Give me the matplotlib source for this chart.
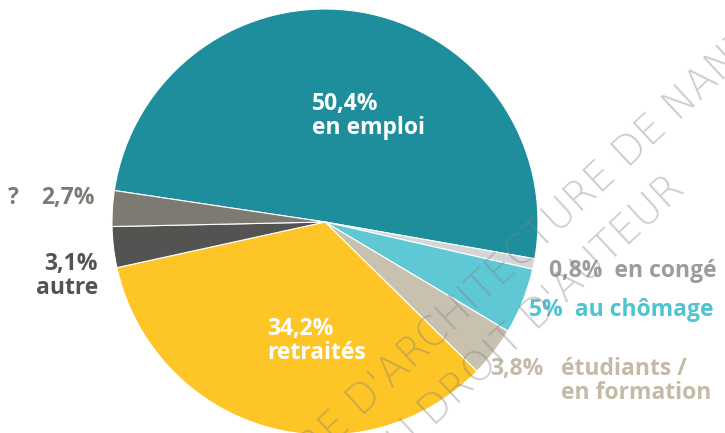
import matplotlib
matplotlib.use("Agg")
import matplotlib.pyplot as plt

plt.rcParams['font.family'] = ['Open Sans', 'DejaVu Sans']

# parts of the population, clockwise from the left edge
labels = ["en emploi", "en congé", "au chômage", "étudiants / en formation",
          "retraités", "autre", "?"]
values = [50.4, 0.8, 5.0, 3.8, 34.2, 3.1, 2.7]
pct_txt = ["50,4%", "0,8%", "5%", "3,8%", "34,2%", "3,1%", "2,7%"]
colors = ["#1e8e9c", "#d3d5d7", "#5fc8d5", "#c8c1b0", "#fdc526", "#545351", "#7d7a74"]

W, H = 725, 433
fig = plt.figure(figsize=(W / 100, H / 100), dpi=100)
ax = fig.add_axes([0, 0, 1, 1])

cx, cy, r = 325, H - 222, 213
ax.pie(values, colors=colors, startangle=171.5, counterclock=False,
       center=(cx, cy), radius=r, frame=True,
       wedgeprops=dict(edgecolor="white", linewidth=0.8))
ax.set_xlim(0, W)
ax.set_ylim(0, H)
ax.axis("off")

fs = 16.5
bold = dict(fontsize=fs, fontweight="bold", linespacing=1.05)

# labels inside the pie
ax.text(312, H - 116, f"{pct_txt[0]}\n{labels[0]}", color="white", ha="left", va="center", **bold)
ax.text(267, H - 341, f"{pct_txt[4]}\n{labels[4]}", color="white", ha="left", va="center", **bold)

# labels outside the pie
ax.text(8, H - 198, labels[6], color=colors[6], ha="left", va="center", **bold)
ax.text(95, H - 198, pct_txt[6], color=colors[6], ha="right", va="center", **bold)
ax.text(98, H - 276, f"{pct_txt[5]}\n{labels[5]}", color=colors[5], ha="right", va="center", **bold)
ax.text(549, H - 271, f"{pct_txt[1]}  {labels[1]}", color="#9c9c9e", ha="left", va="center", **bold)
ax.text(529, H - 310, f"{pct_txt[2]}  {labels[2]}", color="#4fc3d2", ha="left", va="center", **bold)
ax.text(490, H - 369, pct_txt[3], color="#c3bba8", ha="left", va="center", **bold)
ax.text(561, H - 381, "étudiants /\nen formation", color="#c3bba8", ha="left", va="center", **bold)

# watermark
wm = dict(fontsize=29, color="#808080", alpha=0.4, rotation=43,
          rotation_mode="anchor", va="baseline", family="DejaVu Sans",
          fontweight="light")
ax.text(362, H - 418, "ÉCOLE NATIONALE SUPÉRIEURE ", ha="right", **wm)
ax.text(362, H - 418, "D'ARCHITECTURE DE NANTES", ha="left", **wm)
ax.text(434, H - 428, "SOUMIS AU ", ha="right", **wm)
ax.text(434, H - 428, "DROIT D'AUTEUR", ha="left", **wm)

fig.savefig("out.png", dpi=100)
